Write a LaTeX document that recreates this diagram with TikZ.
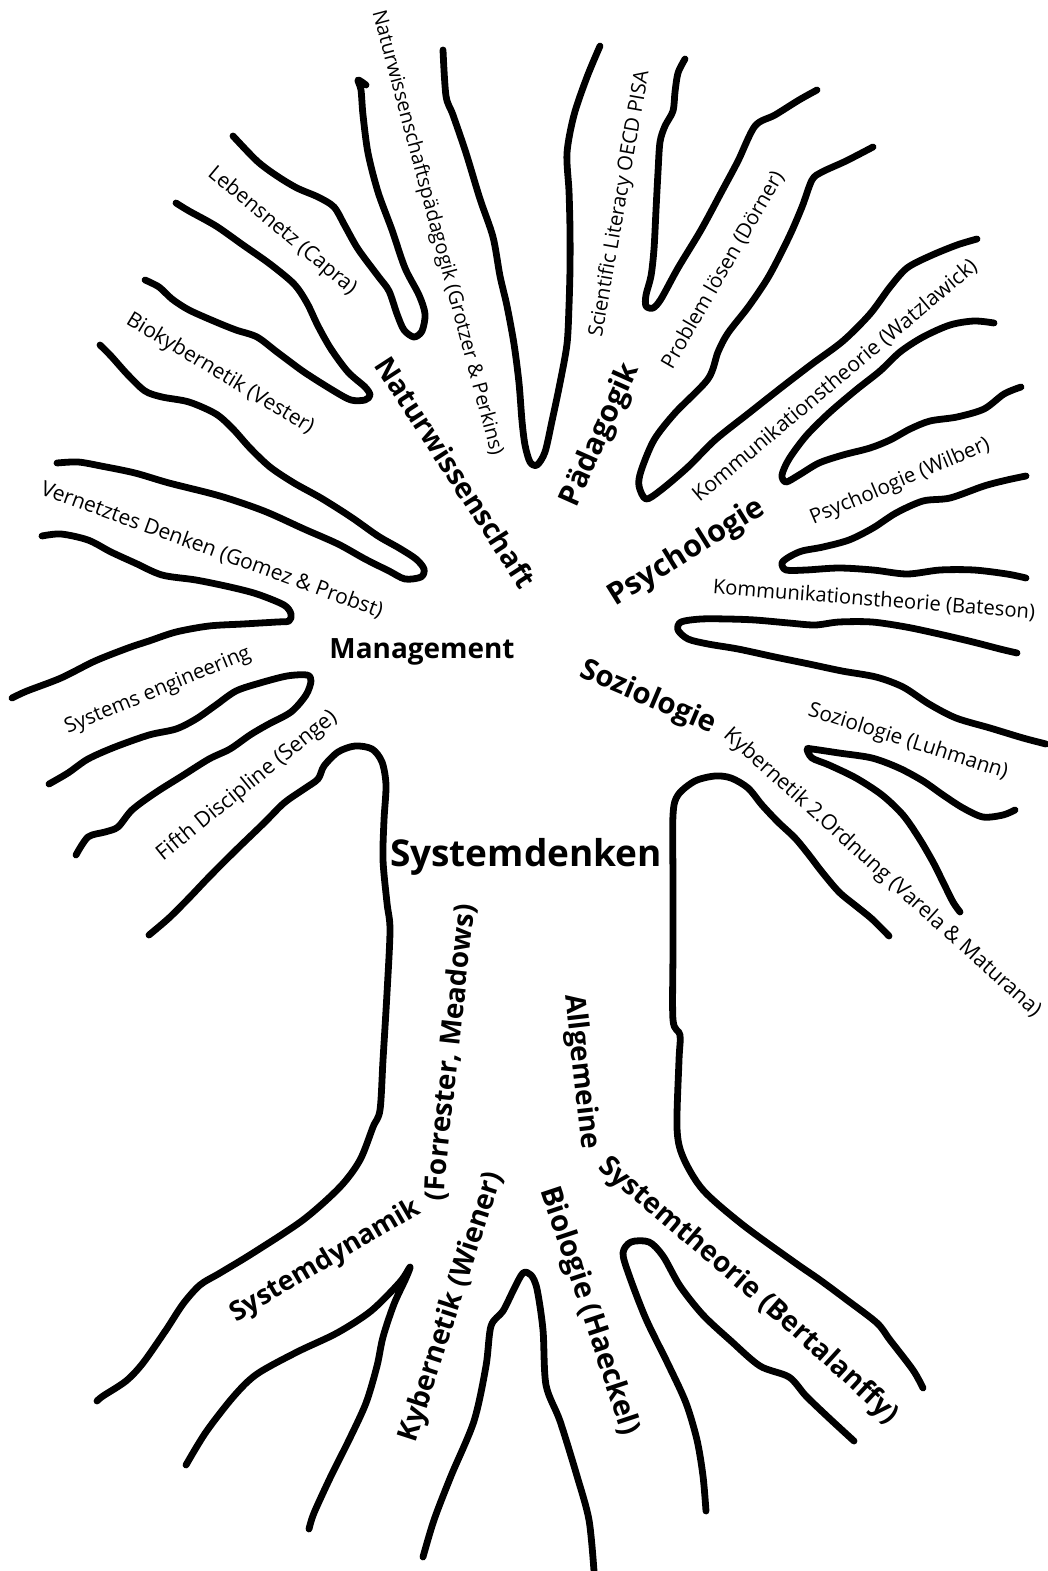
\documentclass[tikz,border=0pt]{standalone}
\usepackage{graphicx}
\usepackage{fontspec}
\setmainfont{Open Sans}
\usetikzlibrary{decorations.text}
\newcommand{\fitw}[2]{\resizebox{#1pt}{!}{#2}}
\begin{document}
\begin{tikzpicture}[x=1pt,y=-1pt,
  branch/.style={line width=6.8pt,line cap=round,line join=round},
  lab/.style={inner sep=0pt,font=\fontsize{16}{19}\selectfont},
  head/.style={inner sep=0pt,font=\bfseries\fontsize{24}{28}\selectfont},
  title/.style={inner sep=0pt,font=\bfseries\fontsize{36}{40}\selectfont},
  curved/.style={postaction={decorate},decoration={text along path,text={|\bfseries\fontsize{#1}{32}\selectfont|}}}]
\fill[white] (0,0) rectangle (1047,1571);
\useasboundingbox (0,0) rectangle (1047,1571);

% ---------- branches ----------
% Capra / Naturwissenschaftspaedagogik
\draw[branch] plot[smooth] coordinates {(233,136) (257,161) (277,176) (297,188) (318,197) (334,207) (345,226) (358,249) (378,276) (389,291) (397,314) (404,330) (414,337) (422,331) (425,314) (419,295) (405,268) (392,230) (378,192) (368,153) (363,115) (361,90) (358,80) (366,85)};
% Vester
\draw[branch] plot[smooth] coordinates {(176,203) (189,211) (216,226) (243,245) (270,264) (294,284) (307,303) (318,326) (331,349) (348,372) (365,387) (370,395) (365,400) (351,400) (334,391) (304,372) (277,352) (257,337) (236,330) (216,322) (189,310) (172,299) (159,287) (145,280)};
% Vernetztes Denken
\draw[branch] plot[smooth] coordinates {(100,345) (111,356) (128,375) (145,391) (162,397) (189,402) (216,414) (233,429) (250,448) (270,467) (294,483) (321,498) (351,517) (378,536) (399,548) (416,559) (424,569) (421,577) (405,579) (389,571) (365,559) (338,544) (304,529) (264,511) (220,496) (169,483) (135,473) (101,466) (78,462) (57,463)};
% Management upper
\draw[branch] plot[smooth] coordinates {(42,536) (61,534) (88,540) (111,552) (135,563) (162,575) (196,580) (230,587) (257,594) (284,605) (291,614) (289,621) (277,622) (243,624) (209,626) (176,632) (149,641) (128,648) (95,661) (61,678) (27,691) (12,698)};
% Fifth discipline
\draw[branch] plot[smooth] coordinates {(49,784) (68,773) (88,759) (115,747) (149,735) (176,729) (196,719) (216,705) (236,691) (260,683) (287,676) (307,675) (311,681) (306,695) (291,712) (267,725) (250,735) (230,749) (209,759) (182,776) (155,793) (132,810) (118,827) (105,832) (88,837) (76,855)};
% trunk left
\draw[branch] plot[smooth] coordinates {(149,935) (169,918) (189,898) (209,877) (236,850) (264,823) (284,803) (304,789) (318,779) (324,766) (338,752) (355,746) (372,749) (382,762) (386,785) (384,820) (383,860) (387,903) (390,930) (387,993) (383,1060) (380,1110) (373,1127) (360,1160) (340,1187) (303,1220) (253,1253) (220,1273) (200,1285) (183,1304) (166,1330) (143,1363) (126,1381) (103,1396) (97,1401)};
% roots
\draw[branch] plot[smooth] coordinates {(186,1465) (206,1432) (234,1396) (257,1374) (297,1352) (337,1333) (371,1311) (400,1282) (410,1267) (406,1278) (394,1304) (383,1337) (377,1366) (366,1403) (349,1440) (331,1476) (314,1513) (309,1529)};
\draw[branch] plot[smooth] coordinates {(423,1557) (434,1520) (451,1476) (474,1421) (486,1366) (491,1326) (503,1311) (514,1289) (523,1273) (531,1275) (537,1289) (543,1330) (546,1385) (560,1421) (577,1476) (589,1520) (594,1571)};
\draw[branch] plot[smooth] coordinates {(706,1511) (703,1476) (697,1440) (686,1403) (669,1366) (646,1319) (629,1275) (623,1253) (631,1242) (649,1242) (663,1256) (680,1286) (703,1315) (731,1341) (760,1366) (789,1377) (806,1396) (829,1418) (854,1441)};
% trunk right
\draw[branch] plot[smooth] coordinates {(923,1388) (913,1370) (890,1340) (877,1323) (847,1300) (820,1280) (794,1262) (743,1225) (703,1190) (683,1157) (677,1128) (679,1060) (680,1035) (673,1020) (673,949) (673,882) (673,815) (678,795) (695,781) (715,776) (731,778) (748,788) (762,805) (778,822) (795,838) (809,855) (822,872) (839,892) (856,906) (872,919) (889,936)};
% Luhmann
\draw[branch] plot[smooth] coordinates {(960,912) (953,902) (943,882) (933,862) (919,838) (903,815) (882,795) (856,778) (829,765) (812,758) (807,749) (812,749) (839,753) (872,758) (899,768) (923,781) (943,795) (963,808) (983,817) (1003,815) (1015,810)};
% Bateson
\draw[branch] plot[smooth] coordinates {(1046,744) (1023,738) (990,728) (956,718) (929,704) (903,687) (876,677) (842,671) (809,664) (775,657) (738,649) (708,644) (688,639) (678,630) (681,622) (701,619) (728,619) (755,620) (789,623) (815,625) (839,622) (872,622) (906,627) (939,634) (973,642) (1000,649) (1017,653)};
% Wilber
\draw[branch] plot[smooth] coordinates {(1026,578) (1007,574) (974,570) (940,570) (907,574) (873,570) (839,568) (806,570) (786,570) (782,563) (789,557) (802,551) (823,547) (849,540) (873,528) (896,513) (923,501) (950,498) (984,486) (1007,480) (1026,476)};
% Watzlawick
\draw[branch] plot[smooth] coordinates {(1021,387) (1004,394) (984,409) (957,417) (930,421) (910,429) (890,440) (870,448) (843,455) (819,463) (799,475) (786,482) (782,475) (789,459) (806,436) (829,413) (856,390) (880,371) (900,352) (923,337) (950,325) (974,321) (994,323)};
% Problem loesen
\draw[branch] plot[smooth] coordinates {(873,147) (846,161) (822,172) (812,180) (802,207) (789,237) (769,276) (749,306) (728,333) (718,352) (708,379) (675,413) (654,440) (641,471) (639,486) (646,499) (661,490) (688,467) (715,440) (749,413) (782,387) (812,364) (843,341) (870,314) (890,287) (907,268) (930,256) (957,245) (977,239)};
% Scientific literacy
\draw[branch] plot[smooth] coordinates {(685,59) (678,73) (675,92) (673,111) (665,126) (660,142) (658,172) (656,210) (654,249) (651,276) (646,295) (646,306) (653,308) (661,299) (678,268) (701,230) (722,191) (738,161) (755,126) (775,115) (799,100) (817,90)};
% tall branch
\draw[branch] plot[smooth] coordinates {(443,50) (446,96) (453,115) (466,153) (480,199) (493,237) (500,276) (507,306) (514,344) (519,383) (522,421) (525,445) (530,462) (537,465) (545,452) (552,421) (560,383) (567,344) (569,306) (570,268) (570,230) (569,191) (567,153) (574,115) (587,77) (600,46)};

% ---------- labels ----------
\node[lab,rotate=-75] (nwp) at (437,233) {\fitw{460}{Naturwissenschaftspädagogik (Grotzer \& Perkins)}};
\node[lab,rotate=-40] (cap) at (282,231) {\fitw{187}{Lebensnetz (Capra)}};
\node[lab,rotate=-31] (ves) at (220,374) {\fitw{215}{Biokybernetik (Vester)}};
\node[lab,rotate=-20] (gom) at (212,550) {\fitw{362}{Vernetztes Denken (Gomez \& Probst)}};
\node[lab,rotate=22.4] (sye) at (158,691) {\fitw{199}{Systems engineering}};
\node[lab,rotate=39] (sen) at (247,786) {\fitw{225}{Fifth Discipline (Senge)}};
\node[head,rotate=-57] (nat) at (456,472) {\fitw{269}{Naturwissenschaft}};
\node[head] (man) at (422,652) {\fitw{185}{Management}};
\node[title] (sys) at (526,857) {\fitw{272}{Systemdenken}};
\node[head,rotate=66] (pad) at (601,435) {\fitw{153}{Pädagogik}};
\node[lab,rotate=80] (pisa) at (620,204) {\fitw{270}{Scientific Literacy OECD PISA}};
\node[lab,rotate=60] (doe) at (723,270) {\fitw{224}{Problem lösen (Dörner)}};
\node[lab,rotate=40] (wat) at (835,381) {\fitw{364}{Kommunikationstheorie (Watzlawick)}};
\node[head,rotate=32] (psy) at (687,553) {\fitw{178}{Psychologie}};
\node[lab,rotate=23] (wil) at (900,482) {\fitw{193}{Psychologie (Wilber)}};
\node[lab,rotate=-4.4] (bat) at (874,600) {\fitw{323}{Kommunikationstheorie (Bateson)}};
\node[head,rotate=-23] (soz) at (648,698) {\fitw{145}{Soziologie}};
\node[lab,rotate=-17.6] (luh) at (908,742) {\fitw{208}{Soziologie (Luhmann)}};
\node[lab,rotate=-42] (var) at (882,873) {\fitw{419}{Kybernetik 2.Ordnung (Varela \& Maturana)}};
\node[head,rotate=72] (wie) at (452,1307) {\fitw{282}{Kybernetik (Wiener)}};
\node[head,rotate=-71.6] (hae) at (589,1311) {\fitw{260}{Biologie (Haeckel)}};

% curved labels, set along their baselines
\path[postaction={decorate},decoration={text along path,
  text={|\bfseries\fontsize{27}{32}\selectfont|Systemdynamik}}]
  (236,1322) -- (440,1202);
\path[postaction={decorate},decoration={text along path,
  text={|\bfseries\fontsize{28}{32}\selectfont|(Forrester, Meadows)}}]
  (444,1201) .. controls (445,1190) and (445,1180) .. (446,1170) -- (482,840);
\path[postaction={decorate},decoration={text along path,
  text={|\bfseries\fontsize{28}{32}\selectfont|Allgemeine}}]
  (565,995) -- (585,1170);
\path[postaction={decorate},decoration={text along path,
  text={|\bfseries\fontsize{28}{32}\selectfont|Systemtheorie (Bertalanffy)}}]
  (597,1168) .. controls (700,1258) and (800,1335) .. (940,1475);
\end{tikzpicture}
\end{document}
